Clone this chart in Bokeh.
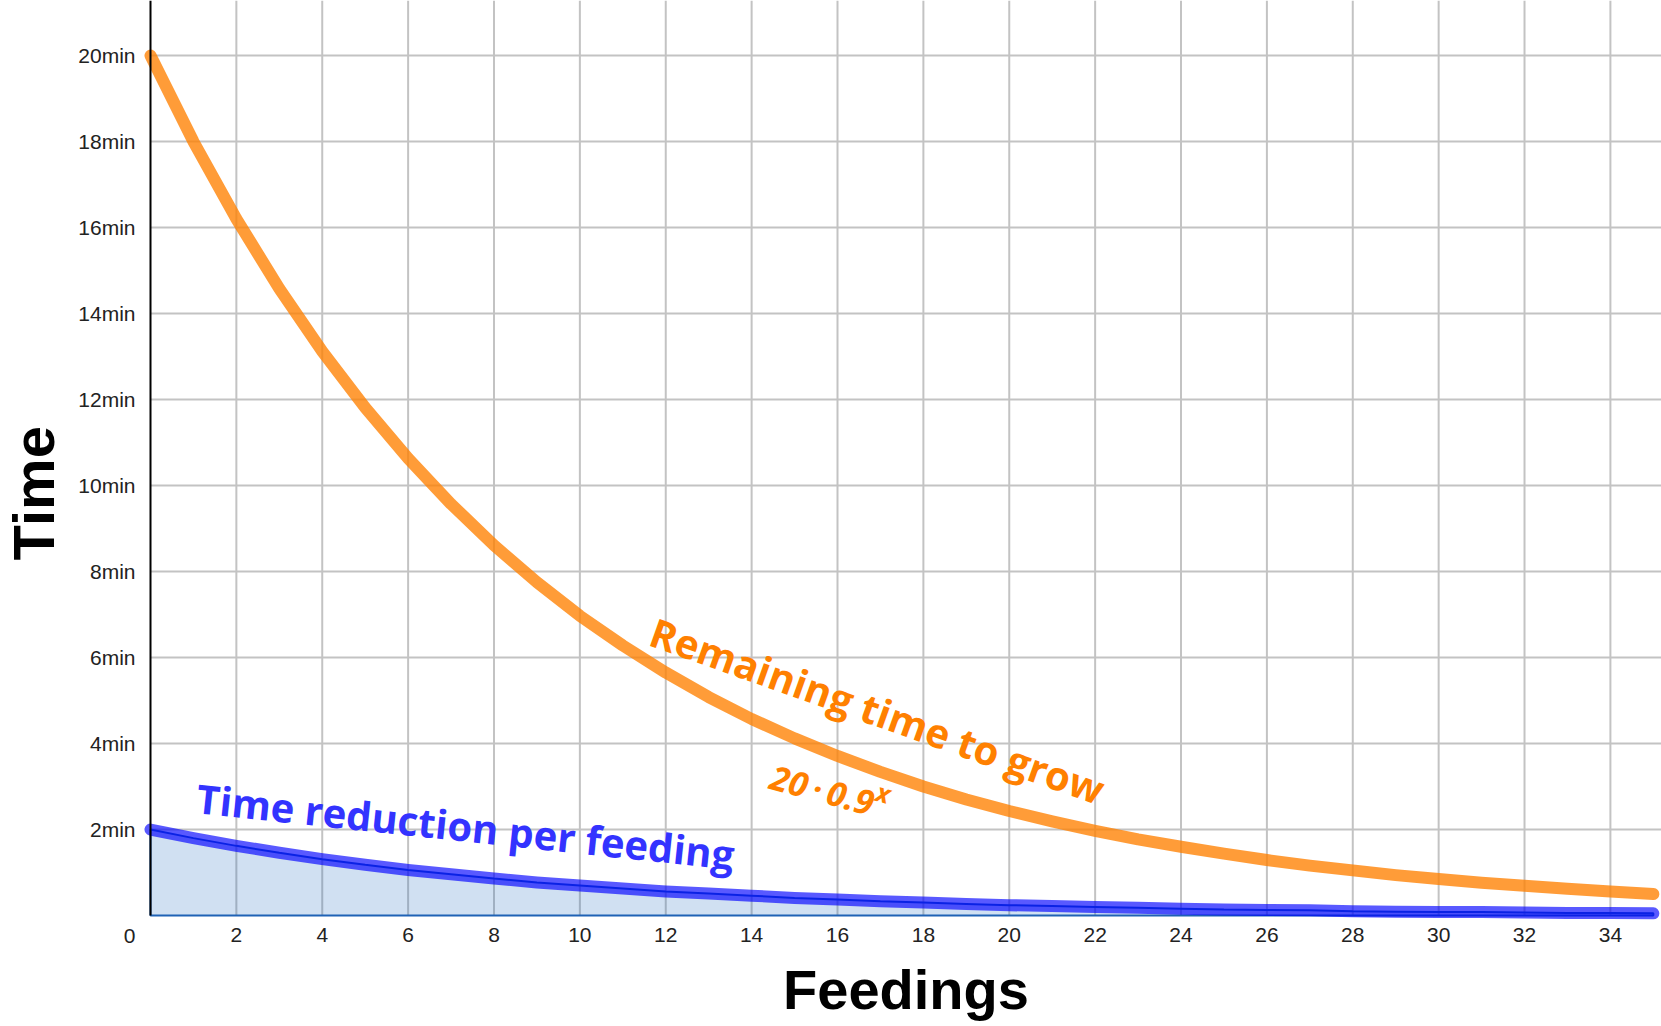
import numpy as np
from bokeh.plotting import figure
from bokeh.models import Range1d, FixedTicker, Label
from bokeh.embed import file_html
from bokeh.resources import INLINE

# ---- data ----
feedings = list(range(36))
remaining_min = [20.0, 18.0, 16.2, 14.58, 13.12, 11.81, 10.63, 9.57, 8.61, 7.75,
                 6.97, 6.28, 5.65, 5.08, 4.57, 4.12, 3.71, 3.34, 3.00, 2.70,
                 2.43, 2.19, 1.97, 1.77, 1.60, 1.44, 1.29, 1.16, 1.05, 0.94,
                 0.85, 0.76, 0.69, 0.62, 0.56, 0.50]
reduction_min = [2.00, 1.80, 1.62, 1.46, 1.31, 1.18, 1.06, 0.96, 0.86, 0.77,
                 0.70, 0.63, 0.56, 0.51, 0.46, 0.41, 0.37, 0.33, 0.30, 0.27,
                 0.24, 0.22, 0.20, 0.18, 0.16, 0.14, 0.13, 0.12, 0.10, 0.09,
                 0.08, 0.08, 0.07, 0.06, 0.06, 0.05]
x_ticks = [2, 4, 6, 8, 10, 12, 14, 16, 18, 20, 22, 24, 26, 28, 30, 32, 34]
y_ticks = [2, 4, 6, 8, 10, 12, 14, 16, 18, 20]
y_tick_labels = ["2min", "4min", "6min", "8min", "10min", "12min", "14min",
                 "16min", "18min", "20min"]
x_title = "Feedings"
y_title = "Time"
remaining_label = "Remaining time to grow"
formula_base = "20\u2009·\u20090.9"
formula_exp = "x"
reduction_label = "Time reduction per feeding"

X0, X1 = -3.493, 35.19
Y0, Y1 = -2.581, 21.28

p = figure(width=1661, height=1026, output_backend="svg", toolbar_location=None,
           x_range=Range1d(X0, X1), y_range=Range1d(Y0, Y1),
           min_border_left=0, min_border_right=0, min_border_top=0,
           min_border_bottom=0)
p.outline_line_color = None
p.background_fill_color = "white"
p.border_fill_color = "white"
p.grid.visible = False

# grid lines only in the quadrant x>=0, y>=0
nx, ny = len(x_ticks), len(y_ticks)
p.segment(x0=x_ticks, y0=[0] * nx, x1=x_ticks, y1=[Y1] * nx,
          line_color="#c3c3c3", line_width=2)
p.segment(x0=[0] * ny, y0=y_ticks, x1=[X1] * ny, y1=y_ticks,
          line_color="#c3c3c3", line_width=2)

# axes crossing at the origin
p.xaxis.fixed_location = 0
p.yaxis.fixed_location = 0
p.xaxis.bounds = (0, X1)
p.yaxis.bounds = (0, Y1)
p.xaxis.ticker = FixedTicker(ticks=x_ticks)
p.yaxis.ticker = FixedTicker(ticks=y_ticks)
p.yaxis.major_label_overrides = dict(zip(y_ticks, y_tick_labels))
for ax in (p.xaxis, p.yaxis):
    ax.major_tick_line_color = None
    ax.minor_tick_line_color = None
    ax.major_tick_out = 0
    ax.major_tick_in = 0
    ax.major_label_text_font = "Liberation Sans"
    ax.major_label_text_font_size = "21px"
    ax.major_label_text_color = "#222222"
p.yaxis.major_label_standoff = 15
p.xaxis.major_label_standoff = 12
p.yaxis.axis_line_color = "black"
p.yaxis.axis_line_width = 2
p.xaxis.axis_line_color = None

p.xaxis.axis_label = x_title
p.xaxis.axis_label_text_font = "Liberation Sans"
p.xaxis.axis_label_text_font_style = "bold"
p.xaxis.axis_label_text_font_size = "56px"
p.xaxis.axis_label_text_color = "black"
p.xaxis.axis_label_standoff = 13

# shaded area under the reduction curve
px = [feedings[0]] + feedings + [feedings[-1]]
py = [0] + reduction_min + [0]
p.patch(px, py, fill_color="#1565c0", fill_alpha=0.2,
        line_color="#1f62b5", line_width=2)

p.line(feedings, remaining_min, line_color="#ff8000", line_alpha=0.78,
       line_width=12, line_cap="round", line_join="round")
p.line(feedings, reduction_min, line_color="#0000ff", line_alpha=0.65,
       line_width=12, line_cap="round", line_join="round")

# annotations
p.add_layout(Label(x=16.93, y=4.77, text=remaining_label, angle=np.deg2rad(-19.6),
                   text_align="center", text_baseline="middle", text_font="Open Sans",
                   text_font_style="bold", text_font_size="40px", text_color="#ff8000"))
p.add_layout(Label(x=15.65, y=2.93, text=formula_base, angle=np.deg2rad(-15),
                   text_align="center", text_baseline="middle", text_font="Open Sans",
                   text_font_style="bold italic", text_font_size="34px", text_color="#ff8000"))
p.add_layout(Label(x=17.07, y=2.86, text=formula_exp, angle=np.deg2rad(-15),
                   text_align="center", text_baseline="middle", text_font="Open Sans",
                   text_font_style="bold italic", text_font_size="26px", text_color="#ff8000"))
p.add_layout(Label(x=7.34, y=2.08, text=reduction_label, angle=np.deg2rad(-6.05),
                   text_align="center", text_baseline="middle", text_font="Open Sans",
                   text_font_style="bold", text_font_size="40px", text_color="#3333ff"))
p.add_layout(Label(x=-2.72, y=9.82, text=y_title, angle=np.pi / 2,
                   text_align="center", text_baseline="middle",
                   text_font="Liberation Sans", text_font_style="bold",
                   text_font_size="58px", text_color="black"))
p.add_layout(Label(x=0, y=0, x_offset=-21, y_offset=-20, text="0",
                   text_align="center", text_baseline="middle",
                   text_font="Liberation Sans", text_font_size="21px",
                   text_color="#222222"))

open("out.html", "w").write(file_html(p, INLINE))
